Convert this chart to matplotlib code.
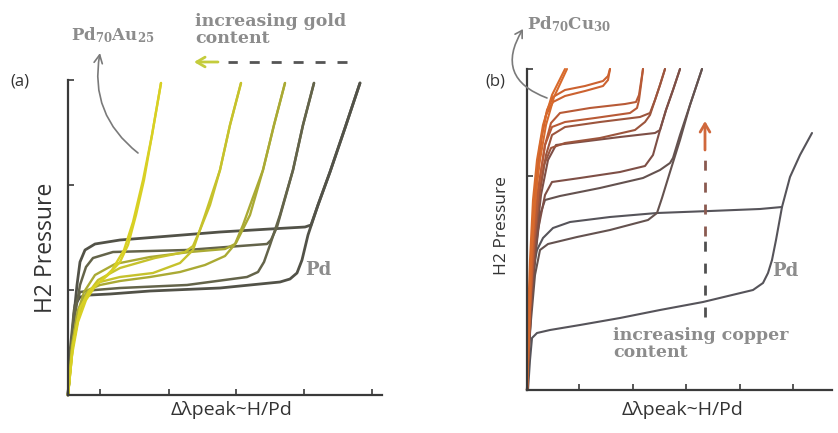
import matplotlib
matplotlib.use('Agg')
import matplotlib.pyplot as plt

plt.rcParams['mathtext.default'] = 'regular'

W, H = 838, 433

# ---------------- Panel (a): Pd-Au hysteresis loops (arbitrary units) ----------------
A_XTICKS = [32, 101, 168, 236, 304]
A_YTICKS = [105, 210, 315]

A_PD_ABS = [(0, 0), (3, 45), (6, 80), (9, 110), (12, 133), (17, 145), (27, 151), (52, 155), (102, 159),
            (152, 163), (202, 166), (237, 168), (243, 170), (250, 190), (262, 223), (277, 267), (292, 312)]
A_PD_DES = [(292, 312), (277, 267), (262, 223), (250, 190), (240, 160), (234, 135), (229, 122), (222, 116),
            (212, 113), (152, 107), (82, 104), (42, 101), (22, 100), (12, 98), (7, 90), (4, 55), (0, 0)]
A_L2_ABS = [(0, 0), (3, 40), (7, 80), (12, 110), (18, 128), (25, 137), (45, 143), (119, 145), (172, 149),
            (199, 151), (203, 155), (209, 168), (218, 200), (225, 225), (235, 270), (246, 312)]
A_L2_DES = [(246, 312), (235, 270), (225, 225), (212, 180), (202, 150), (196, 133), (190, 123), (179, 118),
            (119, 110), (52, 107), (27, 105), (12, 103), (6, 85), (2, 45), (0, 0)]
A_L3_ABS = [(0, 0), (4, 45), (9, 80), (16, 103), (27, 120), (47, 131), (82, 138), (122, 143), (157, 146),
            (167, 151), (175, 170), (184, 195), (195, 225), (206, 270), (217, 312)]
A_L3_DES = [(217, 312), (206, 270), (195, 225), (182, 180), (168, 152), (157, 139), (137, 130), (112, 123),
            (82, 118), (52, 114), (32, 110), (20, 105), (10, 85), (4, 50), (0, 0)]
A_L4_ABS = [(0, 0), (4, 45), (10, 77), (18, 99), (30, 115), (52, 127), (87, 137), (117, 143), (125, 149),
            (132, 165), (142, 190), (152, 225), (162, 270), (173, 312)]
A_L4_DES = [(173, 312), (162, 270), (152, 225), (137, 180), (125, 145), (112, 132), (85, 122), (52, 118),
            (32, 113), (20, 103), (12, 85), (5, 50), (0, 0)]
A_L5_ABS = [(0, 0), (4, 40), (10, 73), (18, 95), (28, 110), (40, 120), (52, 133), (60, 150), (68, 180),
            (76, 215), (84, 260), (93, 312)]
A_L5_DES = [(93, 312), (84, 260), (75, 215), (65, 173), (56, 145), (44, 125), (32, 113), (22, 105), (12, 87),
            (5, 50), (0, 0)]

A_LOOPS = [(A_PD_ABS, A_PD_DES), (A_L2_ABS, A_L2_DES), (A_L3_ABS, A_L3_DES),
           (A_L4_ABS, A_L4_DES), (A_L5_ABS, A_L5_DES)]
A_COLORS = ['#525248', '#64644a', '#aaaa34', '#c6c22c', '#d8d024']
A_WIDTHS = [2.0, 1.8, 1.7, 1.7, 1.7]

# ---------------- Panel (b): Pd-Cu hysteresis loops (arbitrary units) ----------------
B_XTICKS = [52, 106, 159, 213, 266]
B_YTICKS = [214, 321]

B_L1_UP = [(0, 0), (2, 70), (4, 130), (8, 190), (13, 230), (19, 265), (27, 293), (40, 321)]
B_L1_LO = [(0, 0), (1, 70), (3, 130), (6, 190), (10, 230), (16, 265), (25, 295), (38, 321)]
B_L2_UP = [(0, 0), (3, 80), (6, 150), (10, 210), (15, 255), (20, 280), (26, 293), (38, 300), (58, 304),
           (76, 309), (81, 314), (83, 321)]
B_L2_LO = [(83, 321), (81, 310), (76, 304), (58, 299), (38, 294), (26, 288), (19, 275), (13, 245), (8, 200),
           (4, 130), (1, 60), (0, 0)]
B_L3_UP = [(0, 0), (3, 80), (7, 150), (12, 205), (18, 245), (24, 267), (33, 277), (63, 282), (98, 286),
           (109, 288), (112, 295), (114, 308), (116, 321)]
B_L3_LO = [(116, 321), (114, 305), (112, 290), (110, 282), (103, 277), (68, 272), (38, 268), (25, 263),
           (18, 245), (11, 200), (5, 130), (1, 60), (0, 0)]
B_L4_UP = [(0, 0), (3, 80), (8, 150), (13, 200), (19, 235), (25, 255), (38, 263), (73, 268), (113, 273),
           (123, 277), (128, 290), (133, 305), (138, 321)]
B_L4_LO = [(138, 321), (133, 305), (128, 290), (123, 275), (118, 268), (108, 260), (73, 252), (38, 247),
           (24, 242), (17, 225), (10, 180), (4, 120), (1, 60), (0, 0)]
B_L5_UP = [(0, 0), (4, 80), (9, 150), (14, 195), (21, 230), (29, 245), (53, 248), (93, 253), (128, 257),
           (133, 260), (139, 280), (146, 300), (153, 321)]
B_L5_LO = [(153, 321), (146, 300), (139, 280), (133, 260), (126, 235), (118, 224), (93, 218), (53, 212),
           (25, 208), (18, 195), (11, 160), (5, 110), (1, 50), (0, 0)]
B_L6_UP = [(0, 0), (4, 80), (9, 140), (13, 175), (18, 190), (33, 194), (73, 202), (116, 212), (133, 220),
           (143, 227), (146, 232), (153, 255), (163, 285), (175, 321)]
B_L6_LO = [(175, 321), (163, 285), (153, 250), (143, 218), (135, 192), (130, 177), (121, 170), (83, 160),
           (50, 153), (21, 146), (13, 140), (8, 115), (4, 70), (1, 30), (0, 0)]
B_PD_UP = [(0, 0), (2, 50), (4, 90), (7, 125), (10, 140), (16, 152), (26, 162), (43, 168), (83, 173),
           (130, 177), (183, 179), (233, 181), (255, 183), (263, 213), (273, 235), (285, 257)]
B_PD_LO = [(255, 183), (249, 150), (245, 130), (241, 117), (236, 107), (226, 100), (176, 88), (133, 80),
           (93, 72), (53, 65), (23, 60), (10, 57), (5, 52), (3, 30), (1, 0)]

B_LOOPS = [(B_PD_UP, B_PD_LO), (B_L6_UP, B_L6_LO), (B_L5_UP, B_L5_LO), (B_L4_UP, B_L4_LO),
           (B_L3_UP, B_L3_LO), (B_L2_UP, B_L2_LO), (B_L1_UP, B_L1_LO)]
B_COLORS = ['#56545a', '#64524f', '#7e4f46', '#9c553d', '#b85a36', '#cc6230', '#d86a2c']

# ---------------- Figure ----------------
fig = plt.figure(figsize=(W / 100, H / 100), dpi=100)
axA = fig.add_axes([68 / W, (H - 395) / H, 314 / W, 315 / H])
axB = fig.add_axes([527 / W, (H - 390) / H, 305 / W, 321 / H])

for (ab, de), c, lw in zip(A_LOOPS, A_COLORS, A_WIDTHS):
    for br in (ab, de):
        axA.plot([p[0] for p in br], [p[1] for p in br], color=c, lw=lw, clip_on=False,
                 solid_capstyle='round', solid_joinstyle='round')

for (up, lo), c in zip(B_LOOPS, B_COLORS):
    for br in (up, lo):
        axB.plot([p[0] for p in br], [p[1] for p in br], color=c, lw=1.5, clip_on=False,
                 solid_capstyle='round', solid_joinstyle='round')

axA.set_xlim(0, 314)
axA.set_ylim(0, 315)
axA.set_xticks(A_XTICKS)
axA.set_yticks(A_YTICKS)
axB.set_xlim(0, 305)
axB.set_ylim(0, 321)
axB.set_xticks(B_XTICKS)
axB.set_yticks(B_YTICKS)

for ax in (axA, axB):
    ax.patch.set_alpha(0)
    for s in ('top', 'right'):
        ax.spines[s].set_visible(False)
    for s in ('left', 'bottom'):
        ax.spines[s].set_linewidth(1.6)
        ax.spines[s].set_color('#3a3a3a')
    ax.tick_params(direction='in', length=4, width=1.2, colors='#3a3a3a',
                   labelbottom=False, labelleft=False)

# ---------------- Overlay for labels / annotations (pixel coordinates) ----------------
ov = fig.add_axes([0, 0, 1, 1], zorder=5)
ov.set_xlim(0, W)
ov.set_ylim(H, 0)
ov.axis('off')
ov.patch.set_alpha(0)

sans = ['Open Sans', 'DejaVu Sans']
slab = dict(family='DejaVu Serif', weight='bold', color='#8c8c8c')
dark = '#333333'

ov.text(20, 82, '(a)', ha='center', va='center', fontsize=12, family=sans, color=dark)
ov.text(495, 81, '(b)', ha='center', va='center', fontsize=12, family=sans, color=dark)
ov.text(46, 248, 'H2 Pressure', rotation=90, ha='center', va='center', fontsize=16.5, family=sans, color=dark)
ov.text(502, 226, 'H2 Pressure', rotation=90, ha='center', va='center', fontsize=12.5, family=sans, color=dark)
ov.text(232, 410, 'Δλpeak~H/Pd', ha='center', va='center', fontsize=14, family=sans, color=dark)
ov.text(683, 410, 'Δλpeak~H/Pd', ha='center', va='center', fontsize=14, family=sans, color=dark)

ov.text(113, 35, r'Pd$_{70}$Au$_{25}$', ha='center', va='center', fontsize=12, **slab)
ov.text(569, 24, r'Pd$_{70}$Cu$_{30}$', ha='center', va='center', fontsize=12, **slab)
ov.text(195, 30, 'increasing gold\ncontent', ha='left', va='center', fontsize=12.5, linespacing=1.0, **slab)
ov.text(613, 344, 'increasing copper\ncontent', ha='left', va='center', fontsize=12.5, linespacing=1.0, **slab)
ov.text(318, 270, 'Pd', ha='center', va='center', fontsize=13, **slab)
ov.text(785, 271, 'Pd', ha='center', va='center', fontsize=13, **slab)

# curved pointer arrows
ov.annotate('', xy=(100, 53), xytext=(138, 153),
            arrowprops=dict(arrowstyle='->,head_length=0.6,head_width=0.3', color='#7a7a7a', lw=1.2,
                            connectionstyle='arc3,rad=-0.3', shrinkA=0, shrinkB=0))
ov.annotate('', xy=(523, 29), xytext=(547, 98),
            arrowprops=dict(arrowstyle='->,head_length=0.5,head_width=0.3', color='#7a7a7a', lw=1.2,
                            connectionstyle='arc3,rad=-0.6', shrinkA=0, shrinkB=0))

# dashed "increasing gold" arrow
ov.plot([347, 228], [62, 62], color='#555555', lw=2, ls=(0, (3.6, 4.3)))
ov.annotate('', xy=(194, 62), xytext=(218, 62),
            arrowprops=dict(arrowstyle='->,head_length=0.6,head_width=0.35', color='#c4cc3c', lw=2,
                            shrinkA=0, shrinkB=0))

# dashed "increasing copper" arrow
ov.plot([705, 705], [317, 240], color='#505050', lw=2, ls=(0, (3.6, 4.3)))
ov.plot([705, 705], [236, 160], color='#8a5a50', lw=2, ls=(0, (3.6, 4.3)))
ov.annotate('', xy=(705, 121), xytext=(705, 150),
            arrowprops=dict(arrowstyle='->,head_length=0.6,head_width=0.35', color='#d0683c', lw=2,
                            shrinkA=0, shrinkB=0))

fig.savefig('out.png', dpi=100)
